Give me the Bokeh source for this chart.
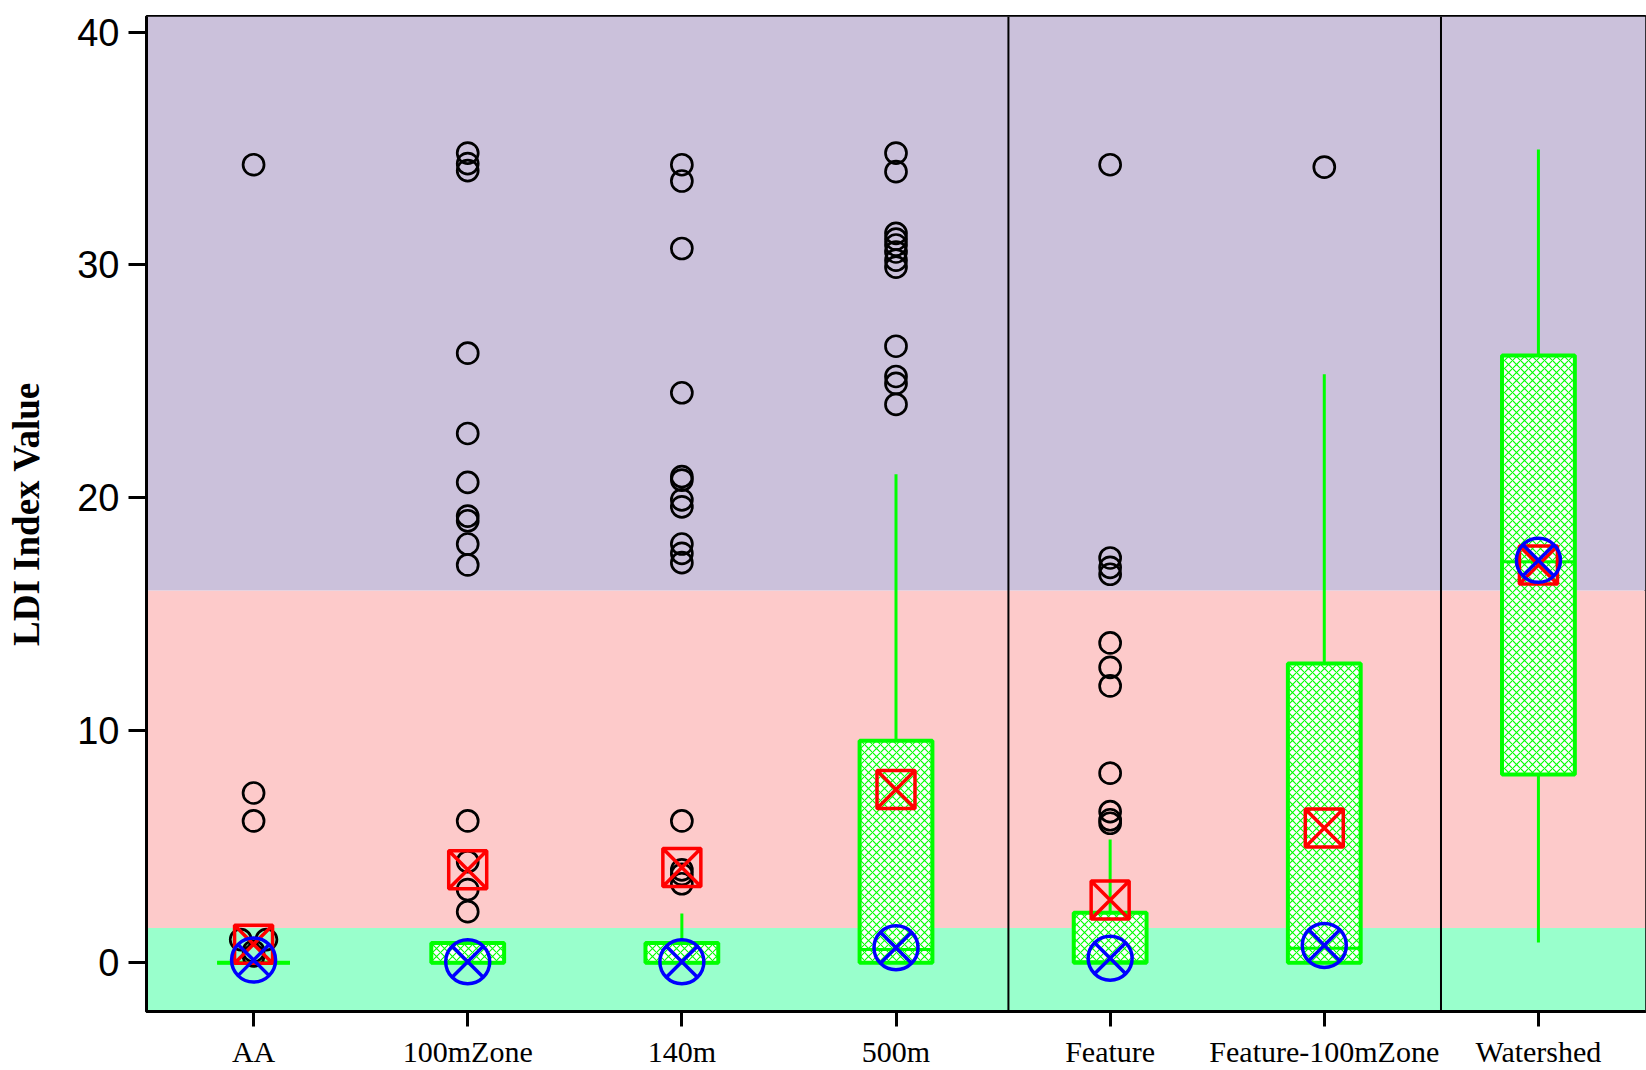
import numpy as np
from bokeh.plotting import figure
from bokeh.models import Range1d, FixedTicker, BoxAnnotation, Span, ColumnDataSource
from bokeh.embed import file_html
from bokeh.resources import INLINE

# ---------------- data ----------------
categories = ["AA", "100mZone", "140m", "500m", "Feature", "Feature-100mZone", "Watershed"]
q1 = [0.0, 0.0, 0.0, 0.0, 0.0, 0.0, 8.1]
median = [0.0, 0.0, 0.0, 0.57, 0.05, 0.63, 17.24]
q3 = [0.0, 0.85, 0.85, 9.55, 2.15, 12.87, 26.1]
whisker_low = [0.0, 0.0, 0.0, 0.0, 0.0, 0.0, 0.87]
whisker_high = [0.0, 0.85, 2.12, 21.0, 5.3, 25.3, 34.95]
mean_values = [0.8, 4.0, 4.1, 7.45, 2.7, 5.8, 17.1]
center_values = [0.12, 0.05, 0.05, 0.65, 0.2, 0.75, 17.3]

out_AA = [34.3, 7.3, 6.1, 1.0, 1.0, 0.5, 0.3]
out_100mZone = [34.8, 34.35, 34.05, 26.2, 22.75, 20.65, 19.2, 19.0, 18.0, 17.1, 6.1, 4.35, 3.15, 2.2]
out_140m = [34.3, 33.6, 30.7, 24.5, 20.9, 20.75, 19.9, 19.6, 18.0, 17.6, 17.2, 6.1, 4.0, 3.8, 3.4]
out_500m = [34.8, 34.0, 31.35, 31.1, 30.85, 30.55, 30.2, 29.9, 26.5, 25.2, 24.9, 24.0]
out_Feature = [34.3, 17.4, 17.0, 16.7, 13.75, 12.7, 11.9, 8.15, 6.5, 6.15, 6.0]
out_Feature100 = [34.2]
out_Watershed = []

band_green_top = 1.5
band_pink_top = 16.0
group_separators = [3.525, 5.545]

# ---------------- figure ----------------
p = figure(width=1646, height=1070, output_backend="svg", toolbar_location=None,
           x_range=Range1d(-0.5, 6.5), y_range=Range1d(-2.09, 40.67),
           min_border_left=146, min_border_right=1, min_border_top=16, min_border_bottom=58)
p.background_fill_color = "white"
p.border_fill_color = "white"
p.grid.visible = False
p.outline_line_color = "black"
p.outline_line_width = 3

# background bands
p.add_layout(BoxAnnotation(top=band_green_top, fill_color="#99ffcc", fill_alpha=1.0,
                           line_alpha=0, level="underlay"))
p.add_layout(BoxAnnotation(bottom=band_green_top, top=band_pink_top, fill_color="#fdcaca",
                           fill_alpha=1.0, line_alpha=0, level="underlay"))
p.add_layout(BoxAnnotation(bottom=band_pink_top, fill_color="#cbc1db", fill_alpha=1.0,
                           line_alpha=0, level="underlay"))

for s in group_separators:
    p.add_layout(Span(location=s, dimension="height", line_color="black", line_width=2,
                      level="underlay"))

xs = np.arange(len(categories), dtype=float)
half = 0.17
src = ColumnDataSource(dict(x=xs, left=xs - half, right=xs + half, q1=q1, q3=q3,
                            med=median, lo=whisker_low, hi=whisker_high,
                            mean=mean_values, center=center_values))

# whiskers
p.segment(x0="x", y0="q3", x1="x", y1="hi", source=src, line_color="#00ff00", line_width=3)
p.segment(x0="x", y0="q1", x1="x", y1="lo", source=src, line_color="#00ff00", line_width=3)
# boxes
p.quad(left="left", right="right", bottom="q1", top="q3", source=src,
       fill_color="white", hatch_pattern="diagonal_cross", hatch_color="#00ff00",
       hatch_scale=8, hatch_weight=1.1, line_color="#00ff00", line_width=4)
# medians
p.segment(x0="left", y0="med", x1="right", y1="med", source=src, line_color="#00ff00", line_width=3)

# outliers
all_out = [out_AA, out_100mZone, out_140m, out_500m, out_Feature, out_Feature100, out_Watershed]
ox, oy = [], []
for i, vals in enumerate(all_out):
    seen = {}
    for v in vals:
        seen[v] = seen.get(v, 0) + 1
    used = {}
    for v in vals:
        n = seen[v]
        k = used.get(v, 0)
        used[v] = k + 1
        dx = 0.0 if n == 1 else (k - (n - 1) / 2) * 0.12
        ox.append(i + dx)
        oy.append(v)
p.scatter(ox, oy, marker="circle", size=21, fill_alpha=0, line_color="black", line_width=2.7)

# means and centers
p.scatter(x="x", y="mean", source=src, marker="square_x", size=38, fill_alpha=0,
          line_color="#ff0000", line_width=3.5)
p.scatter(x="x", y="center", source=src, marker="circle_x", size=44, fill_alpha=0,
          line_color="#0000ff", line_width=3.5)

# axes
p.xaxis.ticker = FixedTicker(ticks=list(xs))
p.xaxis.major_label_overrides = {float(i): c for i, c in enumerate(categories)}
p.xaxis.major_label_text_font = "Liberation Serif"
p.xaxis.major_label_text_font_size = "30px"
p.xaxis.major_label_text_color = "black"
p.xaxis.major_tick_out = 15
p.xaxis.major_tick_in = 0
p.xaxis.major_tick_line_width = 3
p.xaxis.major_label_standoff = 8
p.xaxis.minor_tick_line_color = None
p.xaxis.axis_line_width = 3

p.yaxis.ticker = FixedTicker(ticks=[0, 10, 20, 30, 40])
p.yaxis.major_label_text_font = "Liberation Sans"
p.yaxis.major_label_text_font_size = "38px"
p.yaxis.major_label_text_color = "black"
p.yaxis.major_tick_out = 18
p.yaxis.major_tick_in = 0
p.yaxis.major_tick_line_width = 3
p.yaxis.major_label_standoff = 9
p.yaxis.minor_tick_line_color = None
p.yaxis.axis_line_width = 3
p.yaxis.axis_label = "LDI Index Value"
p.yaxis.axis_label_text_font = "Liberation Serif"
p.yaxis.axis_label_text_font_style = "bold"
p.yaxis.axis_label_text_font_size = "37px"
p.yaxis.axis_label_text_color = "black"
p.yaxis.axis_label_standoff = 27

open("out.html", "w").write(file_html(p, INLINE))
